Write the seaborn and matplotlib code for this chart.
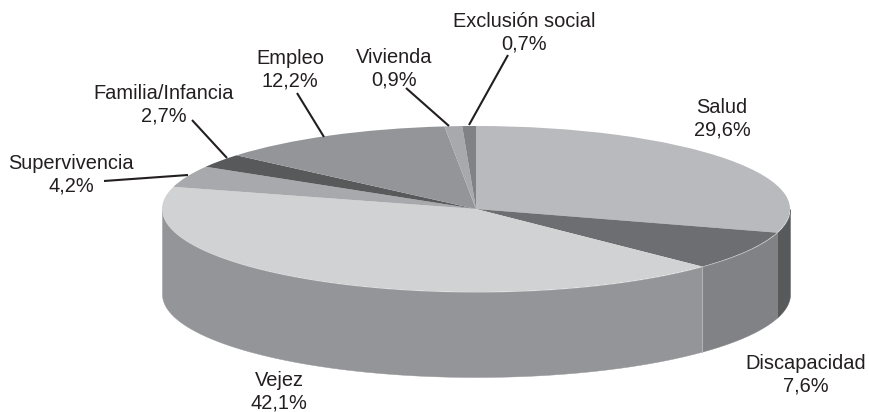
import numpy as np
import matplotlib
matplotlib.use('Agg')
import matplotlib.pyplot as plt
import seaborn as sns

# ---------- Data ----------
categories = ['Salud', 'Discapacidad', 'Vejez', 'Supervivencia',
              'Familia/Infancia', 'Empleo', 'Vivienda', 'Exclusión social']
shares = [29.6, 7.6, 42.1, 4.2, 2.7, 12.2, 0.9, 0.7]
share_labels = ['29,6%', '7,6%', '42,1%', '4,2%', '2,7%', '12,2%', '0,9%', '0,7%']

top_colors = ['#b9babd', '#6d6e71', '#d1d2d4', '#a7a9ac',
              '#58595b', '#939598', '#a7a9ac', '#808285']
side_colors = ['#58595b', '#808285', '#939598', '#a7a9ac',
               '#58595b', '#939598', '#a7a9ac', '#808285']

# ---------- Layout (pixels of the 869x412 picture) ----------
W, H = 869, 412
CX, CY, RX, RY = 476, 209, 314, 83
DEPTH = 85 / RY
TEXT = '#231f20'

label_pos = [(722, 119), (806, 375), (279, 392), (71, 175),
             (164, 105), (290, 70), (394, 69), (524, 33)]
leaders = {3: ((104, 181), (188, 175)),
           4: ((192, 120), (227, 158)),
           5: ((297, 93), (324, 137)),
           6: ((406, 88), (449, 126)),
           7: ((508, 55), (469, 125))}


def px(x, y):
    return (x - CX) / RX, (CY - y) / RY


sns.set_theme(style='white')
plt.rcParams['font.family'] = ['Liberation Sans', 'DejaVu Sans']

fig = plt.figure(figsize=(W / 100, H / 100), dpi=100, facecolor='white')
ax = fig.add_axes([0, 0, 1, 1])

# top of the cake, a unit circle squeezed by the axes limits
wedges, _ = ax.pie(shares, colors=sns.color_palette(top_colors), startangle=90,
                   counterclock=False, radius=1, center=(0, 0),
                   wedgeprops=dict(linewidth=0, zorder=3))
ax.set_aspect('auto')
ax.set_xlim(px(0, 0)[0], px(W, 0)[0])
ax.set_ylim(px(0, H)[1], px(0, 0)[1])
ax.axis('off')

# side wall: only the front half of the rim shows
edges = np.cumsum([0] + shares) / sum(shares) * 360
side_palette = sns.color_palette(side_colors)
for i in range(len(shares)):
    a, b = max(edges[i], 90), min(edges[i + 1], 270)
    if a >= b:
        continue
    t = np.radians(np.linspace(a, b, 120))
    ax.fill_between(np.sin(t), np.cos(t), np.cos(t) - DEPTH,
                    color=side_palette[i], linewidth=0.3, zorder=1)

# pale seam on the wall between Discapacidad and Vejez
seam = np.radians(edges[2])
ax.plot([np.sin(seam)] * 2, [np.cos(seam), np.cos(seam) - DEPTH],
        color='#b4b5b8', lw=0.7, zorder=2)

# labels
for i, name in enumerate(categories):
    x, y = px(*label_pos[i])
    ax.text(x, y, f'{name}\n{share_labels[i]}', ha='center', va='center',
            fontsize=14.4, color=TEXT, linespacing=1.25, zorder=5)

for start, end in leaders.values():
    x0, y0 = px(*start)
    x1, y1 = px(*end)
    ax.plot([x0, x1], [y0, y1], color=TEXT, lw=1.5, solid_capstyle='butt', zorder=4)

fig.savefig('out.png', dpi=100, facecolor='white')
plt.close()
